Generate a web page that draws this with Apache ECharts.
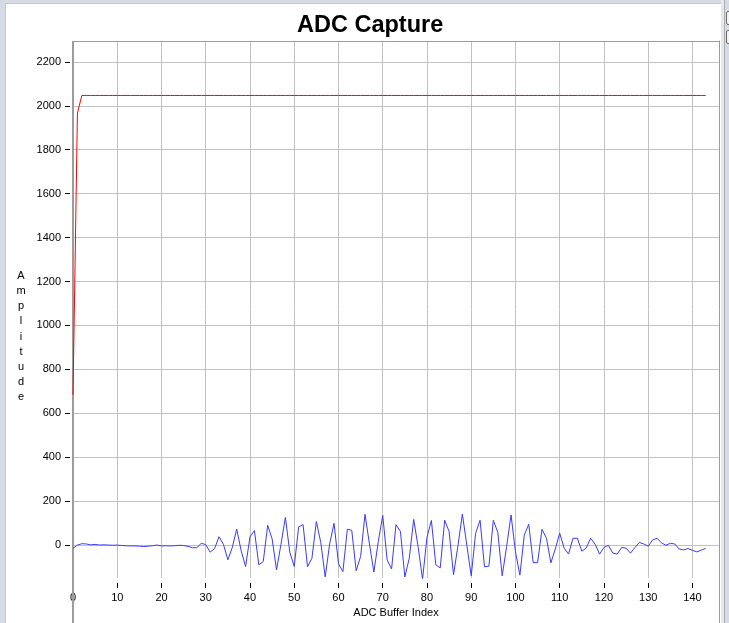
<!DOCTYPE html>
<html>
<head>
<meta charset="utf-8">
<title>ADC Capture</title>
<script src="https://cdn.jsdelivr.net/npm/echarts@6/dist/echarts.min.js"></script>
<style>
  html, body { margin: 0; padding: 0; background: #d7dbe3; }
  #wrap { position: relative; width: 729px; height: 623px; overflow: hidden; }
  #panel { position: absolute; left: 5px; top: 3px; width: 715px; height: 640px; background: #fff; border: 1px solid #c4c8cf; }
  #side { position: absolute; left: 721px; top: 0; width: 3px; height: 623px; background: #e8e8e8; border-right: 1px solid #a9adb5; }
  .chk { position: absolute; left: 726px; width: 10px; height: 12px; border: 1px solid #6a6a6a; border-radius: 2px; background: #f4f4f4; }
  #main { position: absolute; left: 0; top: 0; width: 729px; height: 623px; }
</style>
</head>
<body>
<div id="wrap">
  <div id="panel"></div>
  <div id="side"></div>
  <div class="chk" style="top: 11px;"></div>
  <div class="chk" style="top: 30px;"></div>
  <div id="main"></div>
</div>
<script>
// tick labels
const xTicks = [0, 10, 20, 30, 40, 50, 60, 70, 80, 90, 100, 110, 120, 130, 140];
const yTicks = [0, 200, 400, 600, 800, 1000, 1200, 1400, 1600, 1800, 2000, 2200];

// red trace, one value per buffer index 0..143
const refLevel = [
  684, 1967, 2047, 2047, 2047, 2047, 2047, 2047, 2047, 2047, 2047, 2047,
  2047, 2047, 2047, 2047, 2047, 2047, 2047, 2047, 2047, 2047, 2047, 2047,
  2047, 2047, 2047, 2047, 2047, 2047, 2047, 2047, 2047, 2047, 2047, 2047,
  2047, 2047, 2047, 2047, 2047, 2047, 2047, 2047, 2047, 2047, 2047, 2047,
  2047, 2047, 2047, 2047, 2047, 2047, 2047, 2047, 2047, 2047, 2047, 2047,
  2047, 2047, 2047, 2047, 2047, 2047, 2047, 2047, 2047, 2047, 2047, 2047,
  2047, 2047, 2047, 2047, 2047, 2047, 2047, 2047, 2047, 2047, 2047, 2047,
  2047, 2047, 2047, 2047, 2047, 2047, 2047, 2047, 2047, 2047, 2047, 2047,
  2047, 2047, 2047, 2047, 2047, 2047, 2047, 2047, 2047, 2047, 2047, 2047,
  2047, 2047, 2047, 2047, 2047, 2047, 2047, 2047, 2047, 2047, 2047, 2047,
  2047, 2047, 2047, 2047, 2047, 2047, 2047, 2047, 2047, 2047, 2047, 2047,
  2047, 2047, 2047, 2047, 2047, 2047, 2047, 2047, 2047, 2047, 2047, 2047
];

// blue trace, one value per buffer index 0..143
const adcSamples = [
  -15, 0, 6, 5, 1, 3, 0, 1, 0, -1, 0, -2,
  -3, -4, -4, -5, -7, -5, -3, 0, -4, -3, -4, -3,
  -1, -2, -6, -12, -12, 8, 2, -32, -16, 38, 3, -67,
  -11, 73, -25, -98, 37, 66, -90, -75, 90, 28, -113, 3,
  126, -33, -97, 83, 93, -99, -60, 107, 12, -145, 5, 99,
  -85, -121, 72, 67, -117, -52, 140, 5, -123, 16, 135, -68,
  -109, 93, 62, -145, -60, 117, -8, -155, 35, 112, -90, -104,
  113, 62, -135, -3, 141, 0, -140, 54, 113, -99, -96, 113,
  58, -140, -7, 137, -30, -137, 46, 95, -80, -80, 72, 31,
  -81, -18, 54, -14, -41, 31, 31, -28, -13, 31, 4, -41,
  -11, -1, -37, -41, -11, -14, -37, -11, 12, 5, -5, 23,
  31, 10, -1, 8, 5, -18, -22, -16, -24, -31, -23, -15
];

const font = '"Liberation Sans", Arial, sans-serif';
const borderColor = '#9c9c9c';
const gridColor = '#c2c2c2';

const chart = echarts.init(document.getElementById('main'));

const option = {
  animation: false,
  backgroundColor: 'transparent',
  title: {
    text: 'ADC Capture',
    left: 292,
    top: 9,
    textStyle: { fontFamily: font, fontSize: 23.5, fontWeight: 'bold', color: '#000' }
  },
  grid: { left: 73, right: 10, top: 41, bottom: 45, containLabel: false, outerBoundsMode: 'none' },
  xAxis: [
    {
      type: 'value',
      min: 0,
      max: 146,
      offset: 5,
      name: 'ADC Buffer Index',
      nameLocation: 'middle',
      nameGap: 24,
      nameTextStyle: { fontFamily: font, fontSize: 11, color: '#000', verticalAlign: 'top' },
      axisLine: { show: false, onZero: false },
      axisTick: { show: true, length: 5, customValues: xTicks, lineStyle: { color: '#000' } },
      axisLabel: { customValues: xTicks, margin: 9, fontFamily: font, fontSize: 11, color: '#000', formatter: (v) => String(v) },
      splitLine: { show: true, lineStyle: { color: gridColor, width: 1 } }
    },
    {
      // top border of the plot
      type: 'value',
      position: 'top',
      min: 0,
      max: 146,
      axisLine: { show: true, onZero: false, lineStyle: { color: borderColor, width: 1 } },
      axisTick: { show: false },
      axisLabel: { show: false },
      splitLine: { show: false }
    }
  ],
  yAxis: [
    {
      type: 'value',
      min: -150,
      max: 2295,
      offset: 3,
      axisLine: { show: false, onZero: false },
      axisTick: { show: true, length: 5, customValues: yTicks, lineStyle: { color: '#000' } },
      axisLabel: { customValues: yTicks, margin: 9, fontFamily: font, fontSize: 11, color: '#000', formatter: (v) => String(v) },
      splitLine: { show: true, lineStyle: { color: gridColor, width: 1 } }
    },
    {
      // right border of the plot
      type: 'value',
      position: 'right',
      min: -150,
      max: 2295,
      axisLine: { show: true, onZero: false, lineStyle: { color: borderColor, width: 1 } },
      axisTick: { show: false },
      axisLabel: { show: false },
      splitLine: { show: false }
    }
  ],
  graphic: [
    {
      // left frame line, runs on below the plot
      type: 'line',
      z: 1,
      shape: { x1: 73, y1: 41, x2: 73, y2: 623 },
      style: { stroke: borderColor, lineWidth: 2 }
    },
    {
      // right frame line continues below the plot too
      type: 'line',
      z: 1,
      shape: { x1: 719.5, y1: 578, x2: 719.5, y2: 623 },
      style: { stroke: borderColor, lineWidth: 1 }
    },
    {
      type: 'text',
      x: 21,
      y: 336.5,
      style: {
        text: 'A\nm\np\nl\ni\nt\nu\nd\ne',
        font: '11px "Liberation Sans", Arial, sans-serif',
        align: 'center',
        verticalAlign: 'middle',
        lineHeight: 15.1,
        fill: '#000'
      }
    }
  ],
  series: [
    {
      name: 'Reference',
      type: 'line',
      xAxisIndex: 0,
      yAxisIndex: 0,
      data: refLevel.map((v, i) => [i, v]),
      symbol: 'none',
      silent: true,
      lineStyle: { color: '#ff0000', width: 1 }
    },
    {
      name: 'ADC',
      type: 'line',
      xAxisIndex: 0,
      yAxisIndex: 0,
      data: adcSamples.map((v, i) => [i, v]),
      symbol: 'none',
      silent: true,
      lineStyle: { color: '#3a3aff', width: 1 }
    }
  ]
};

chart.setOption(option);
</script>
</body>
</html>
